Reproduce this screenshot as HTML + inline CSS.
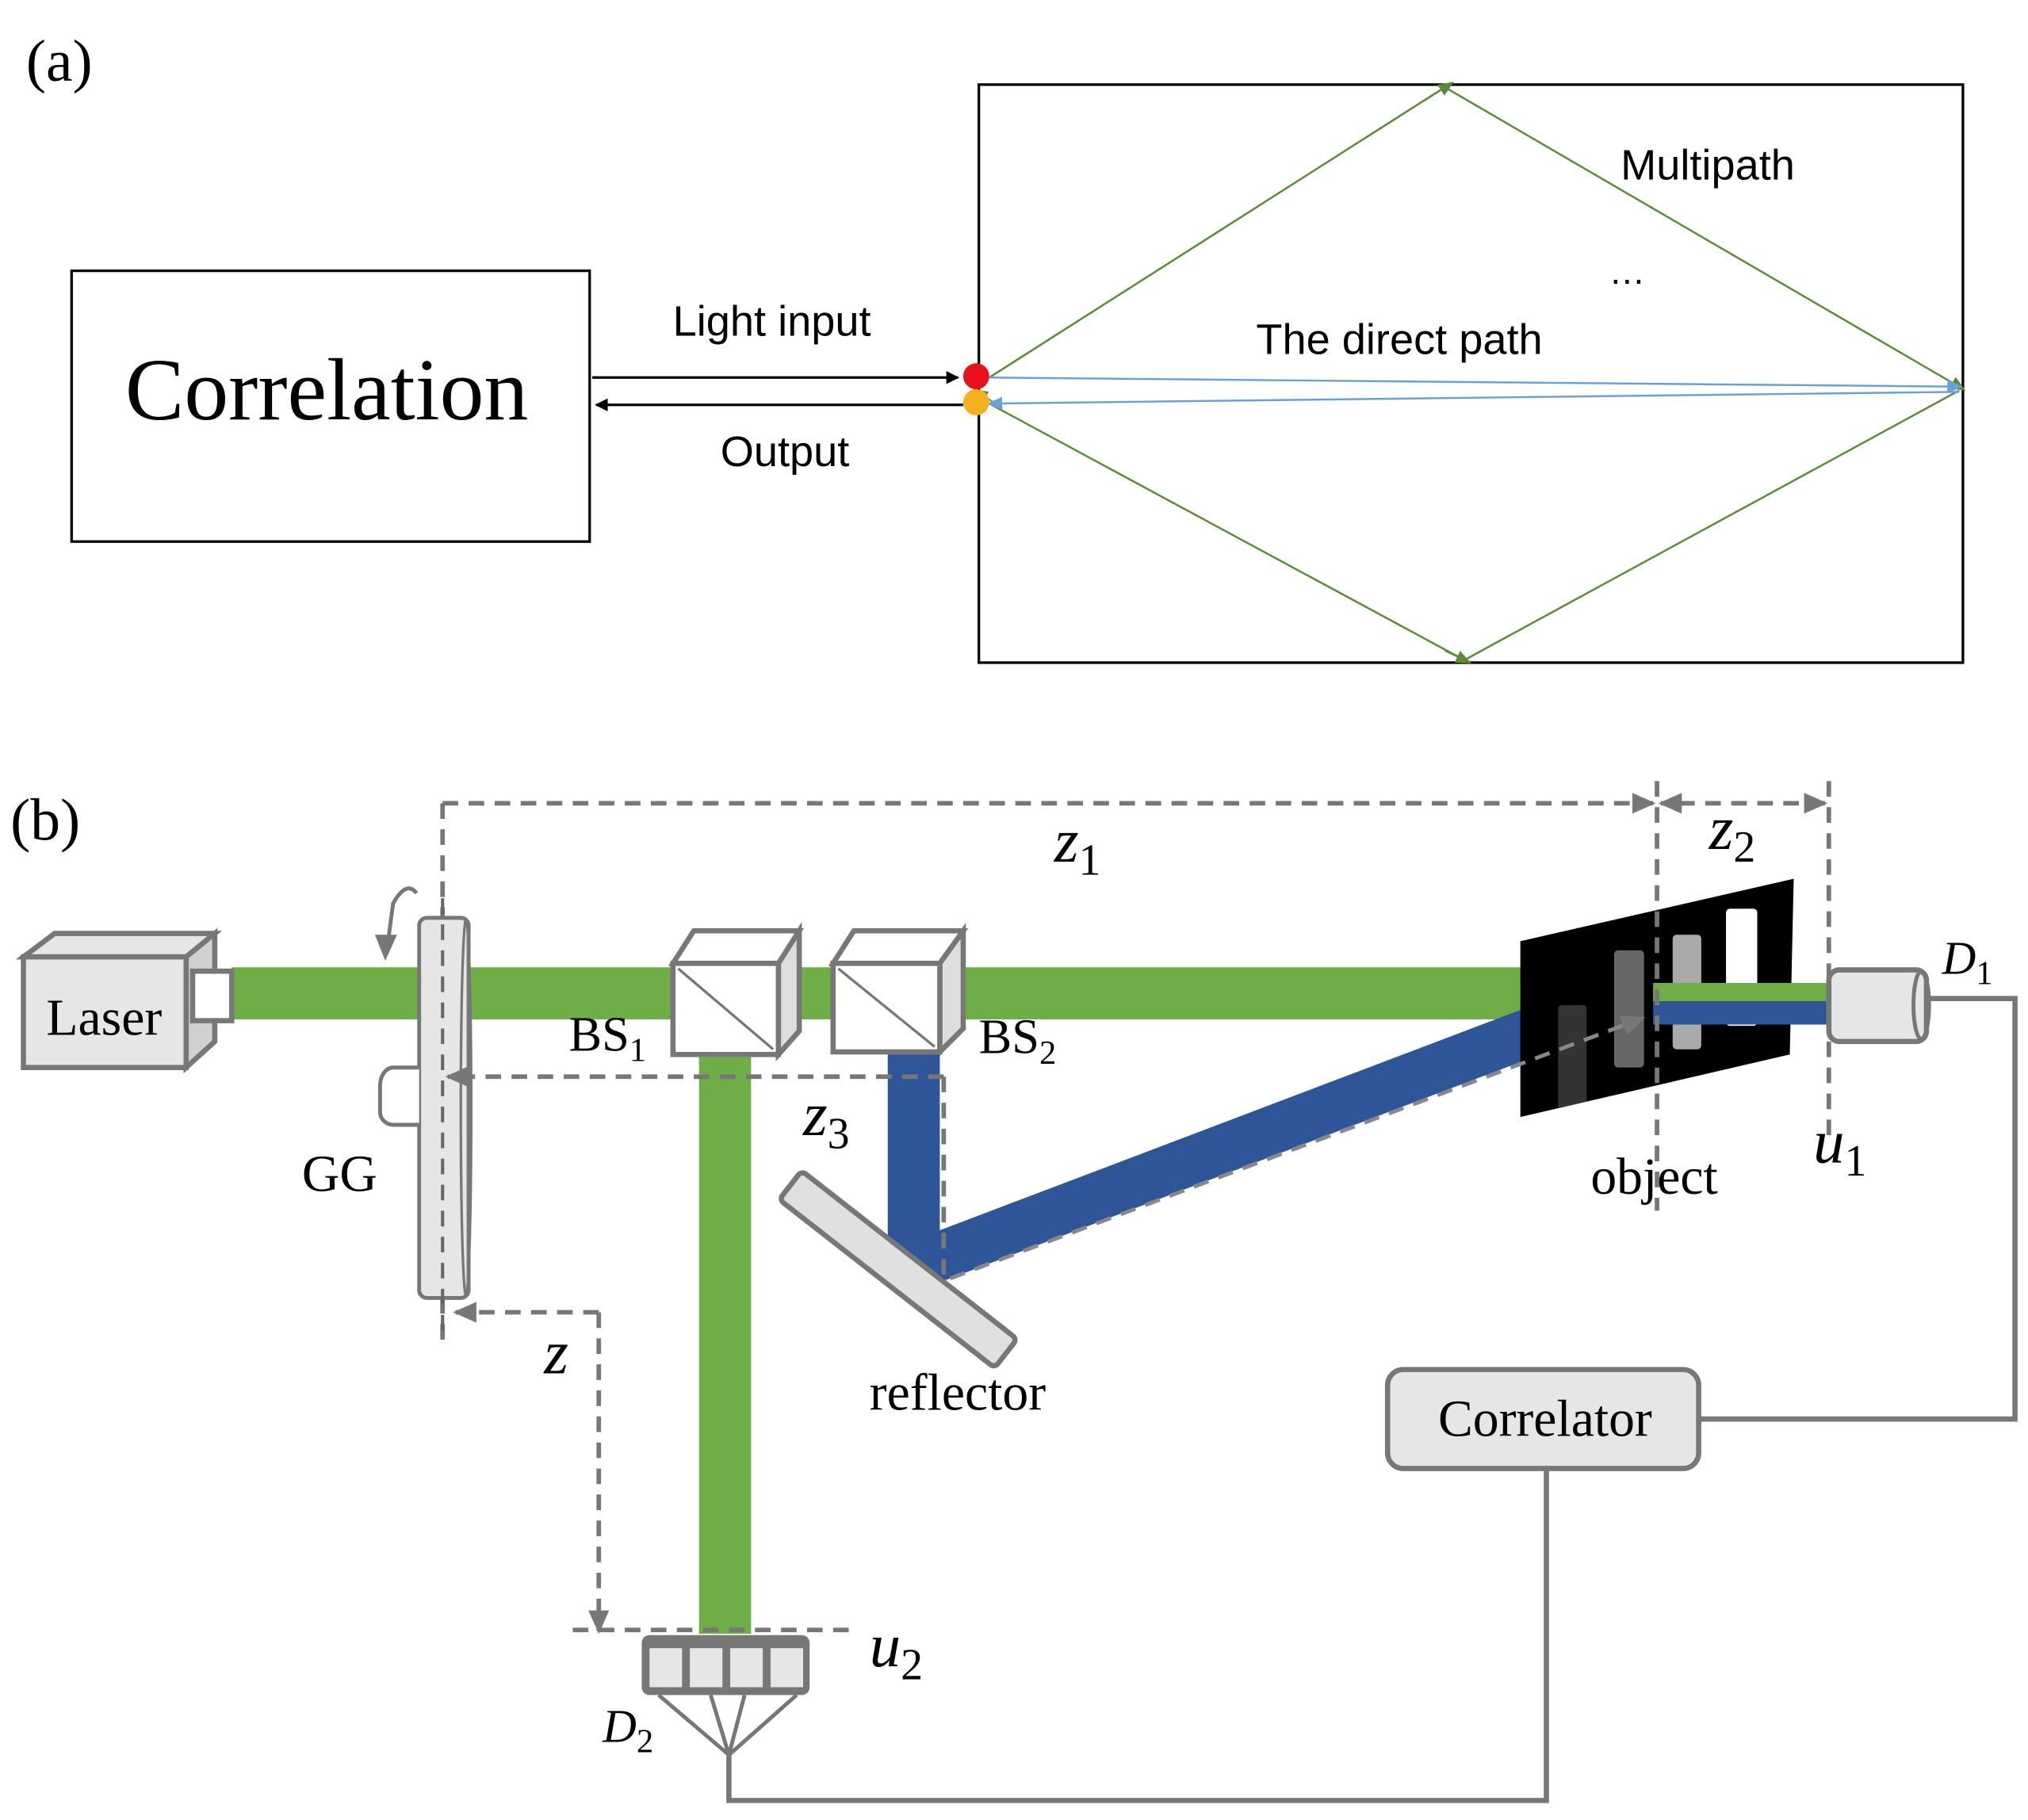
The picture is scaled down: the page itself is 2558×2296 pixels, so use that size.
<!DOCTYPE html>
<html><head><meta charset="utf-8"><style>
html,body{margin:0;padding:0;background:#fff;}
svg{display:block;}
.s{font-family:"Liberation Serif",serif;}
.a{font-family:"Liberation Sans",sans-serif;}
</style></head><body>
<svg width="2558" height="2296" viewBox="0 0 1558 1398" preserveAspectRatio="none" xmlns="http://www.w3.org/2000/svg">
<defs>
<marker id="ak" markerWidth="10" markerHeight="10" refX="9" refY="5" orient="auto" markerUnits="userSpaceOnUse"><path d="M0,0 L10,5 L0,10 z" fill="#000"/></marker>
<marker id="ag" markerWidth="12" markerHeight="12" refX="6" refY="6" orient="auto" markerUnits="userSpaceOnUse"><path d="M0,1 L12,6 L0,11 z" fill="#5a8a3a"/></marker>
<marker id="ab" markerWidth="12" markerHeight="12" refX="10" refY="6" orient="auto" markerUnits="userSpaceOnUse"><path d="M0,1 L12,6 L0,11 z" fill="#6aa0d8"/></marker>
<marker id="gy" markerWidth="18" markerHeight="16" refX="16" refY="8" orient="auto" markerUnits="userSpaceOnUse"><path d="M0,0 L18,8 L0,16 z" fill="#777"/></marker>
<clipPath id="obj"><polygon points="1168,723 1378,675 1375,810 1168,858"/></clipPath>
</defs>
<!-- (a) -->
<text x="20" y="62" class="s" font-size="46">(a)</text>
<rect x="55" y="208" width="398" height="208" fill="none" stroke="#000" stroke-width="2"/>
<text x="251" y="322" class="s" font-size="68" text-anchor="middle">Correlation</text>
<line x1="455" y1="290" x2="736" y2="290" stroke="#000" stroke-width="2" marker-end="url(#ak)"/>
<line x1="740" y1="311" x2="458" y2="311" stroke="#000" stroke-width="2" marker-end="url(#ak)"/>
<text x="593" y="258" class="a" font-size="33" text-anchor="middle">Light input</text>
<text x="603" y="358" class="a" font-size="33" text-anchor="middle">Output</text>
<rect x="752" y="65" width="756" height="444" fill="none" stroke="#000" stroke-width="2"/>
<polyline points="760,290 1110,67 1505,297" fill="none" stroke="#5a8a3a" stroke-width="1.5"/>
<polyline points="760,310 1125,507 1505,300" fill="none" stroke="#5a8a3a" stroke-width="1.5"/>
<line x1="1095" y1="77" x2="1112" y2="66" stroke="#5a8a3a" marker-end="url(#ag)"/>
<line x1="1110" y1="500" x2="1125" y2="507" stroke="#5a8a3a" marker-end="url(#ag)"/>
<line x1="1490" y1="288" x2="1505" y2="297" stroke="#5a8a3a" marker-end="url(#ag)"/>
<line x1="765" y1="310" x2="752" y2="302" stroke="#5a8a3a" marker-end="url(#ag)"/>
<line x1="760" y1="290" x2="1506" y2="297" stroke="#6aa0d8" stroke-width="1.5" marker-end="url(#ab)"/>
<line x1="1505" y1="301" x2="760" y2="310" stroke="#6aa0d8" stroke-width="1.5" marker-end="url(#ab)"/>
<circle cx="750" cy="289" r="10" fill="#e8101a"/>
<circle cx="750" cy="309" r="10" fill="#f5b020"/>
<text x="1245" y="138" class="a" font-size="33">Multipath</text>
<text x="1236" y="218" class="a" font-size="28">…</text>
<text x="965" y="272" class="a" font-size="33">The direct path</text>
<!-- (b) -->
<text x="8" y="645" class="s" font-size="46">(b)</text>
<g stroke="#777" stroke-width="3.5" stroke-dasharray="12,8" fill="none">
<line x1="340" y1="617" x2="1270" y2="617" marker-end="url(#gy)"/>
<line x1="1290" y1="617" x2="1402" y2="617" marker-end="url(#gy)"/>
<line x1="340" y1="617" x2="340" y2="1032"/>
<line x1="1405" y1="600" x2="1405" y2="875"/>
</g>
<line x1="1300" y1="617" x2="1276" y2="617" stroke="#777" stroke-width="3.5" marker-end="url(#gy)"/>
<text x="810" y="662" class="s" font-size="48" font-style="italic">z<tspan font-size="34" font-style="normal" dy="10">1</tspan></text>
<text x="1313" y="652" class="s" font-size="48" font-style="italic">z<tspan font-size="34" font-style="normal" dy="10">2</tspan></text>
<!-- green beams -->
<rect x="178" y="743" width="992" height="40" fill="#6fae47"/>
<!-- laser -->
<polygon points="18,735 42,717 165,717 143,735" fill="#e6e6e6" stroke="#777" stroke-width="4"/>
<polygon points="143,735 165,717 165,800 143,820" fill="#d0d0d0" stroke="#777" stroke-width="4"/>
<rect x="18" y="735" width="125" height="85" fill="#e6e6e6" stroke="#777" stroke-width="4"/>
<text x="80" y="795" class="s" font-size="40" text-anchor="middle">Laser</text>
<rect x="148" y="746" width="30" height="38" fill="#fff" stroke="#777" stroke-width="4"/>
<!-- GG -->
<rect x="322" y="705" width="38" height="292" rx="6" fill="#e6e6e6" stroke="#777" stroke-width="3"/>
<ellipse cx="358" cy="851" rx="4" ry="144" fill="none" stroke="#777" stroke-width="2"/>
<path d="M322,820 h-20 a10,14 0 0 0 -10,14 v20 a10,10 0 0 0 10,10 h20" fill="#fff" stroke="#777" stroke-width="3"/>
<line x1="340" y1="690" x2="340" y2="1030" stroke="#666" stroke-width="2.5" stroke-dasharray="12,8"/>
<path d="M320,686 q-8,-10 -18,8 l-4,30" fill="none" stroke="#777" stroke-width="3"/>
<polygon points="288,718 305,718 296,738" fill="#777"/>
<text x="232" y="915" class="s" font-size="40">GG</text>
<!-- BS1 -->
<polygon points="517,740 533,715 614,715 598,740" fill="#fff" stroke="#777" stroke-width="4"/>
<polygon points="598,740 614,715 614,792 598,810" fill="#ddd" stroke="#777" stroke-width="4"/>
<rect x="517" y="740" width="81" height="70" fill="#fff" stroke="#777" stroke-width="4"/>
<line x1="521" y1="744" x2="594" y2="806" stroke="#777" stroke-width="2"/>
<rect x="537" y="812" width="40" height="443" fill="#6fae47"/>
<text x="437" y="807" class="s" font-size="38">BS<tspan font-size="26" dy="8">1</tspan></text>
<!-- BS2 -->
<polygon points="640,740 656,715 740,715 722,740" fill="#fff" stroke="#777" stroke-width="4"/>
<polygon points="722,740 740,715 740,790 722,808" fill="#ddd" stroke="#777" stroke-width="4"/>
<rect x="640" y="740" width="82" height="68" fill="#fff" stroke="#777" stroke-width="4"/>
<line x1="644" y1="744" x2="718" y2="804" stroke="#777" stroke-width="2"/>
<text x="752" y="809" class="s" font-size="38">BS<tspan font-size="26" dy="8">2</tspan></text>
<!-- blue -->
<polygon points="682,810 722,810 722,945 1170,775 1170,815 722,985 682,985" fill="#2e5597"/>
<!-- reflector -->
<g transform="translate(690,975) rotate(38)">
<rect x="-105" y="-14" width="210" height="28" rx="4" fill="#e0e0e0" stroke="#777" stroke-width="4"/>
</g>
<text x="668" y="1083" class="s" font-size="40">reflector</text>
<!-- dashed -->
<g stroke="#777" stroke-width="3.5" stroke-dasharray="12,8" fill="none">
<line x1="725" y1="827" x2="344" y2="827" marker-end="url(#gy)"/>
<line x1="725" y1="827" x2="725" y2="980"/>
<line x1="460" y1="1008" x2="350" y2="1008" marker-end="url(#gy)"/>
<line x1="460" y1="1008" x2="460" y2="1253" marker-end="url(#gy)"/>
<line x1="440" y1="1252" x2="660" y2="1252"/>
</g>
<text x="617" y="872" class="s" font-size="48" font-style="italic">z<tspan font-size="34" font-style="normal" dy="10">3</tspan></text>
<text x="418" y="1055" class="s" font-size="48" font-style="italic">z</text>
<text x="668" y="1280" class="s" font-size="48" font-style="italic">u<tspan font-size="34" font-style="normal" dy="10">2</tspan></text>
<!-- D2 -->
<rect x="493" y="1256" width="129" height="46" rx="6" fill="#777"/>
<rect x="499" y="1266" width="25" height="30" fill="#e6e6e6"/>
<rect x="530" y="1266" width="25" height="30" fill="#e6e6e6"/>
<rect x="561" y="1266" width="25" height="30" fill="#e6e6e6"/>
<rect x="592" y="1266" width="25" height="30" fill="#e6e6e6"/>
<g stroke="#777" stroke-width="3" fill="none">
<line x1="506" y1="1302" x2="560" y2="1348"/><line x1="546" y1="1302" x2="560" y2="1348"/>
<line x1="572" y1="1302" x2="560" y2="1348"/><line x1="612" y1="1302" x2="560" y2="1348"/>
<polyline points="560,1348 560,1383 1188,1383 1188,1128" stroke-width="4"/>
<polyline points="1483,767 1548,767 1548,1090 1305,1090" stroke-width="4"/>
</g>
<text x="463" y="1338" class="s" font-size="36" font-style="italic">D<tspan font-size="26" font-style="normal" dy="8">2</tspan></text>
<!-- correlator -->
<rect x="1066" y="1052" width="239" height="76" rx="12" fill="#e6e6e6" stroke="#777" stroke-width="4"/>
<text x="1187" y="1103" class="s" font-size="40" text-anchor="middle">Correlator</text>
<!-- object -->
<polygon points="1168,723 1378,675 1375,810 1168,858" fill="#000"/>
<g clip-path="url(#obj)">
<rect x="1197" y="772" width="22" height="84" rx="3" fill="#333"/>
<rect x="1240" y="730" width="23" height="90" rx="3" fill="#666"/>
<rect x="1285" y="718" width="22" height="88" rx="3" fill="#aaa"/>
<rect x="1326" y="698" width="24" height="90" rx="3" fill="#fff"/>
</g>
<line x1="730" y1="982" x2="1262" y2="782" stroke="#888" stroke-width="3" stroke-dasharray="12,8" marker-end="url(#gy)"/>
<rect x="1270" y="755" width="135" height="15" fill="#6fae47"/>
<rect x="1270" y="769" width="135" height="18" fill="#2e5597"/>
<line x1="1273" y1="600" x2="1273" y2="930" stroke="#777" stroke-width="3.5" stroke-dasharray="12,8"/>
<!-- D1 -->
<rect x="1405" y="745" width="75" height="55" rx="8" fill="#e6e6e6" stroke="#777" stroke-width="4"/>
<ellipse cx="1476" cy="772" rx="6" ry="26" fill="none" stroke="#777" stroke-width="3"/>
<text x="1492" y="748" class="s" font-size="36" font-style="italic">D<tspan font-size="26" font-style="normal" dy="8">1</tspan></text>
<text x="1222" y="917" class="s" font-size="40">object</text>
<text x="1393" y="893" class="s" font-size="48" font-style="italic">u<tspan font-size="34" font-style="normal" dy="10">1</tspan></text>
</svg>
</body></html>
